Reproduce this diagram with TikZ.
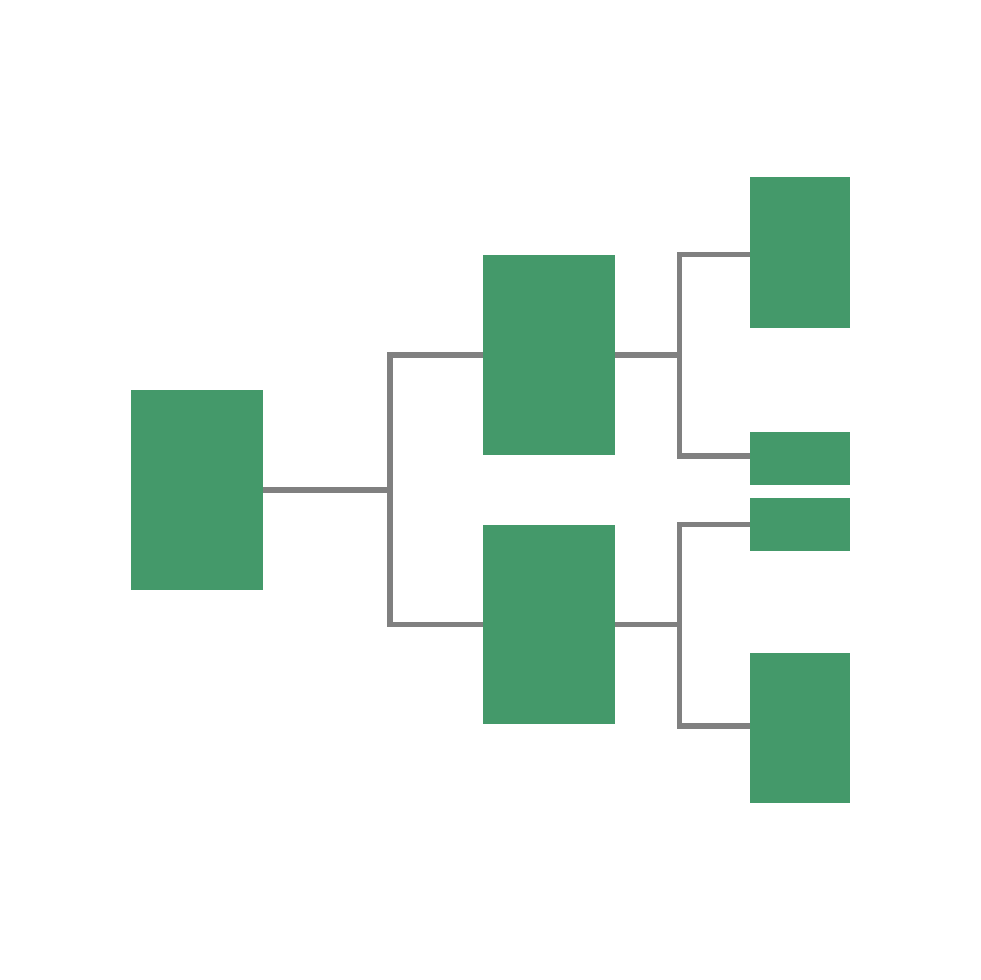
\documentclass[tikz,border=0pt]{standalone}
\definecolor{boxgreen}{RGB}{68,153,106}
\definecolor{linegray}{RGB}{128,128,128}
\begin{document}
\begin{tikzpicture}[x=1pt,y=-1pt,
  box/.style={rectangle,fill=boxgreen,draw=none,inner sep=0pt,outer sep=0pt,anchor=north west},
  conn/.style={draw=linegray,line width=5.5pt,line join=miter}]
\useasboundingbox (0,0) rectangle (980,980);
\node[box,minimum width=132pt,minimum height=200pt] (root) at (131,390) {};
\node[box,minimum width=132pt,minimum height=200pt] (m1) at (483,255) {};
\node[box,minimum width=132pt,minimum height=199pt] (m2) at (483,525) {};
\node[box,minimum width=99.5pt,minimum height=151pt] (r1) at (750,176.5) {};
\node[box,minimum width=99.5pt,minimum height=52.7pt] (r2) at (750,432.3) {};
\node[box,minimum width=99.5pt,minimum height=52.7pt] (r3) at (750,498.3) {};
\node[box,minimum width=99.5pt,minimum height=150.6pt] (r4) at (750,652.7) {};
\coordinate (j0) at (390,0);
\coordinate (j1) at (679.5,0);
\draw[conn] (root.east) -- (j0 |- root.east) |- (m1.west);
\draw[conn] (j0 |- root.east) |- (m2.west);
\draw[conn] (m1.east) -- (j1 |- m1.east) |- ([yshift=-2.5pt]r1.west);
\draw[conn] (j1 |- m1.east) |- ([yshift=2.5pt]r2.west);
\draw[conn] (m2.east) -- (j1 |- m2.east) |- (r3.west);
\draw[conn] (j1 |- m2.east) |- ([yshift=2pt]r4.west);
\end{tikzpicture}
\end{document}
